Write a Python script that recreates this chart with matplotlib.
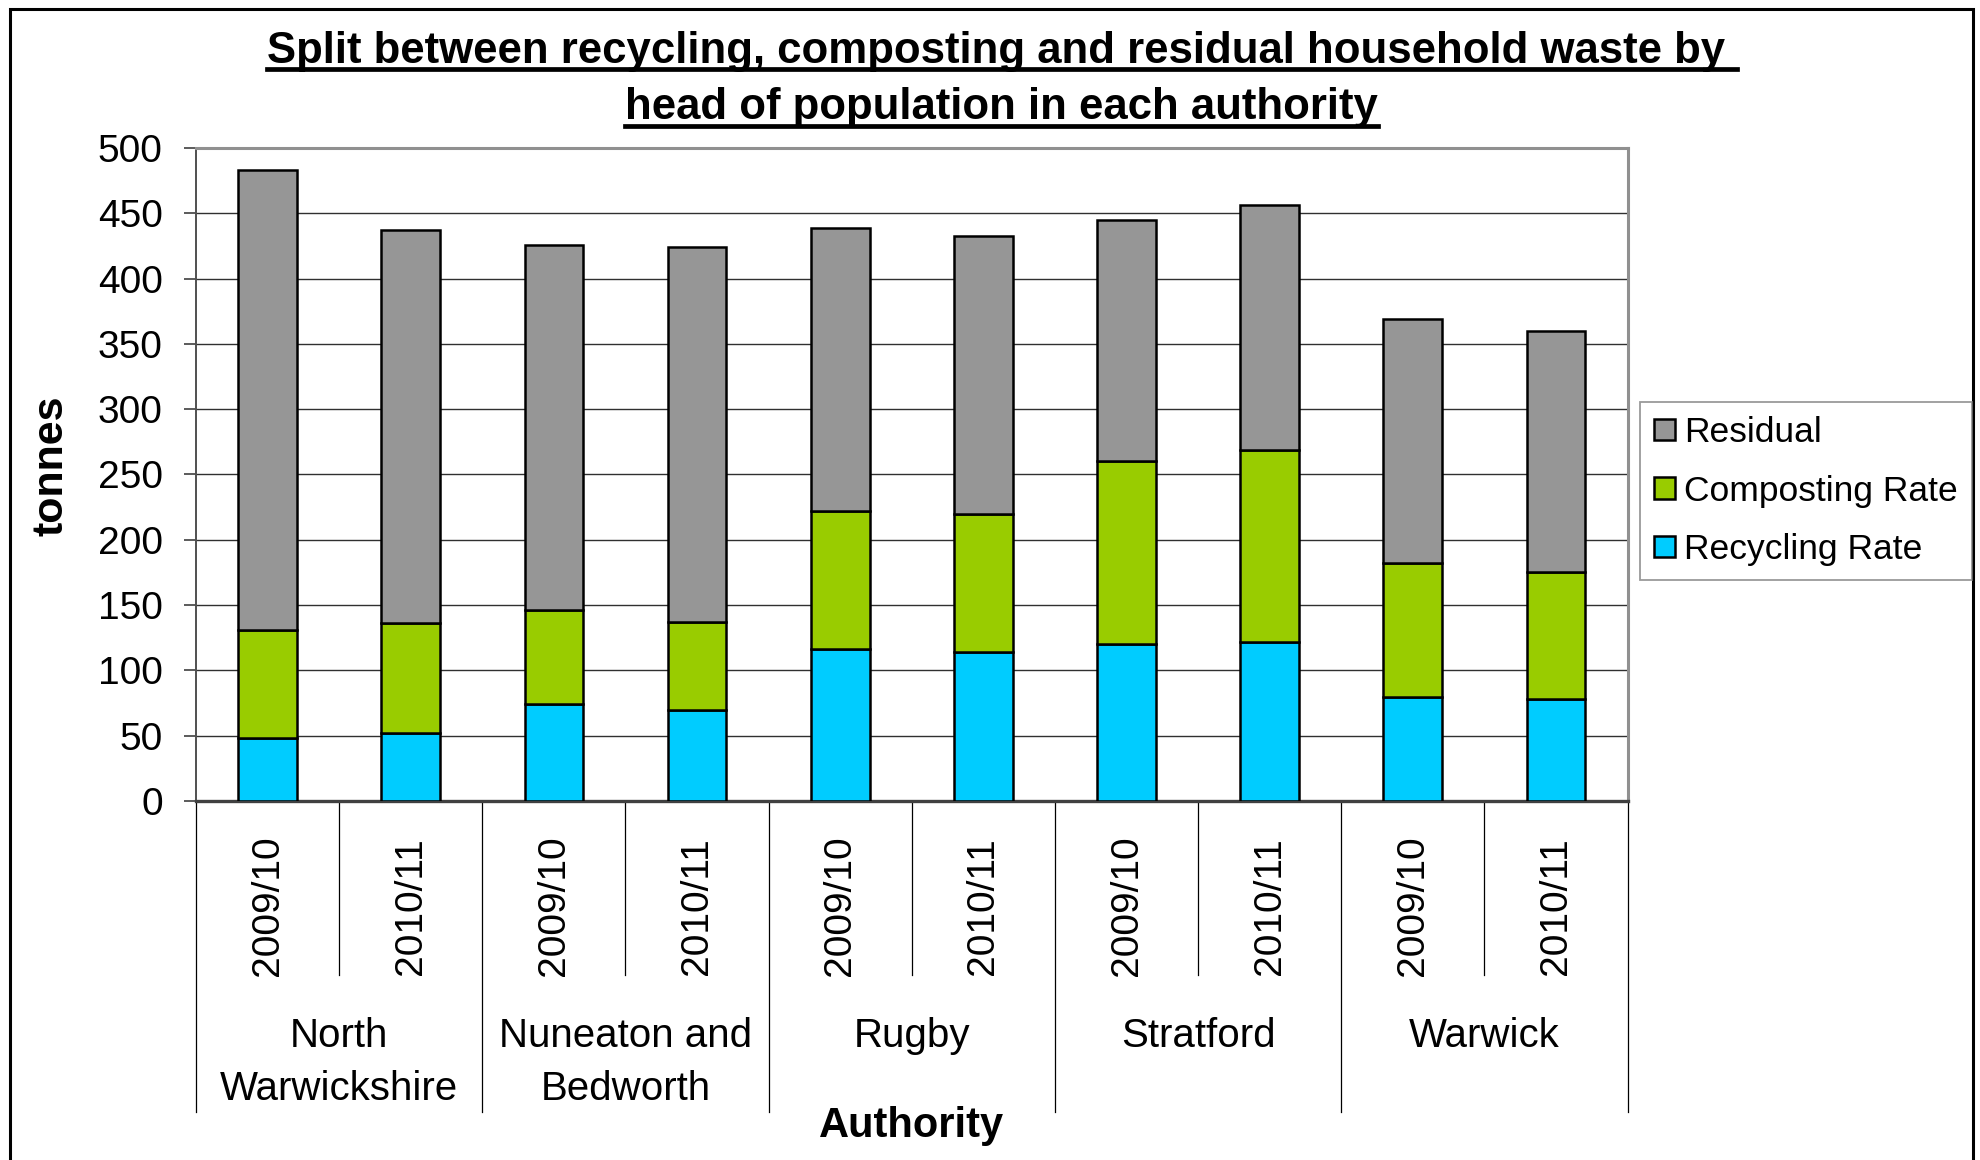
import matplotlib
matplotlib.use('Agg')
import matplotlib.pyplot as plt
from matplotlib.patches import Rectangle
from matplotlib.lines import Line2D
import numpy as np

plt.rcParams['font.family'] = ['Liberation Sans', 'DejaVu Sans']

# data (tonnes per head, stacked)
groups = ['North\nWarwickshire', 'Nuneaton and\nBedworth', 'Rugby', 'Stratford', 'Warwick']
years = ['2009/10', '2010/11']
recycling = [48, 52, 74, 70, 116, 114, 120, 122, 80, 78]
composting = [83, 84, 72, 67, 106, 106, 140, 147, 102, 97]
residual = [352, 301, 280, 287, 217, 213, 185, 187, 187, 185]

title_lines = ['Split between recycling, composting and residual household waste by ',
               'head of population in each authority']

c_rec = '#00CCFF'
c_comp = '#99CC00'
c_res = '#969696'

fig = plt.figure(figsize=(19.8, 11.6), dpi=100)
ax = fig.add_axes([0.099, 0.3095, 0.723, 0.5629])

n = len(recycling)
x = np.arange(n)
w = 0.41
rec = np.array(recycling)
comp = np.array(composting)
res = np.array(residual)

b1 = ax.bar(x, rec, w, color=c_rec, edgecolor='black', linewidth=1.8, label='Recycling Rate', zorder=3)
b2 = ax.bar(x, comp, w, bottom=rec, color=c_comp, edgecolor='black', linewidth=1.8, label='Composting Rate', zorder=3)
b3 = ax.bar(x, res, w, bottom=rec + comp, color=c_res, edgecolor='black', linewidth=1.8, label='Residual', zorder=3)

ax.set_xlim(-0.5, n - 0.5)
ax.set_ylim(0, 500)
ax.set_yticks(np.arange(0, 501, 50))
ax.tick_params(axis='y', labelsize=28, length=9, width=1.2, pad=15, color='#404040')
ax.set_xticks([])
ax.grid(axis='y', color='#303030', linewidth=1.0, zorder=0)
ax.set_axisbelow(True)

for s in ['top', 'right']:
    ax.spines[s].set_color('#909090')
    ax.spines[s].set_linewidth(2.2)
ax.spines['left'].set_color('#505050')
ax.spines['left'].set_linewidth(1.4)
ax.spines['bottom'].set_color('#404040')
ax.spines['bottom'].set_linewidth(2.4)

# hierarchical category axis
tr = ax.get_xaxis_transform()
for i in range(n):
    ax.text(x[i], -0.161, years[i % 2], rotation=90, ha='center', va='center',
            fontsize=28, transform=tr)
for k in range(n + 1):
    bound = k - 0.5
    low = -0.476 if k % 2 == 0 else -0.266
    ax.plot([bound, bound], [0, low], color='black', lw=0.9, transform=tr, clip_on=False)
for g, name in enumerate(groups):
    cx = 2 * g + 0.5
    for j, line in enumerate(name.split('\n')):
        ax.text(cx, -0.36 - 0.081 * j, line, ha='center', va='center',
                fontsize=29, transform=tr)

ax.text(0.5, -0.498, 'Authority', ha='center', va='center', fontsize=30,
        fontweight='bold', transform=ax.transAxes)
ax.set_ylabel('tonnes', fontsize=31, fontweight='bold')
ax.yaxis.set_label_coords(-0.087, 0.514)

# legend
leg = fig.legend(handles=[b3, b2, b1], loc='upper left',
                 bbox_to_anchor=(1640 / 1980, 1 - 402 / 1160), borderaxespad=0,
                 fontsize=25.5, frameon=True, fancybox=False, edgecolor='#808080',
                 handlelength=0.6, handleheight=0.55, handletextpad=0.25,
                 labelspacing=0.72, borderpad=0.4)
leg.get_frame().set_linewidth(1.3)

# title with underline
ty = [1 - 51 / 1160, 1 - 108 / 1160]
tts = []
for line, yy in zip(title_lines, ty):
    t = fig.text(0.506, yy, line, ha='center', va='center', fontsize=31.5, fontweight='bold')
    tts.append(t)

fig.canvas.draw()
r = fig.canvas.get_renderer()
inv = fig.transFigure.inverted()
for t in tts:
    bb = t.get_window_extent(r)
    (x0, y0), (x1, y1) = inv.transform([[bb.x0, bb.y0 + 3], [bb.x1, bb.y0 + 3]])
    fig.add_artist(Line2D([x0, x1], [y0, y1], color='black', lw=3.4, transform=fig.transFigure))

# chart border
fig.add_artist(Rectangle((10 / 1980, -0.1), 1963 / 1980, 1.1 - 9 / 1160, fill=False,
                         edgecolor='black', lw=2.2, transform=fig.transFigure))

fig.savefig('out.png', dpi=100)
